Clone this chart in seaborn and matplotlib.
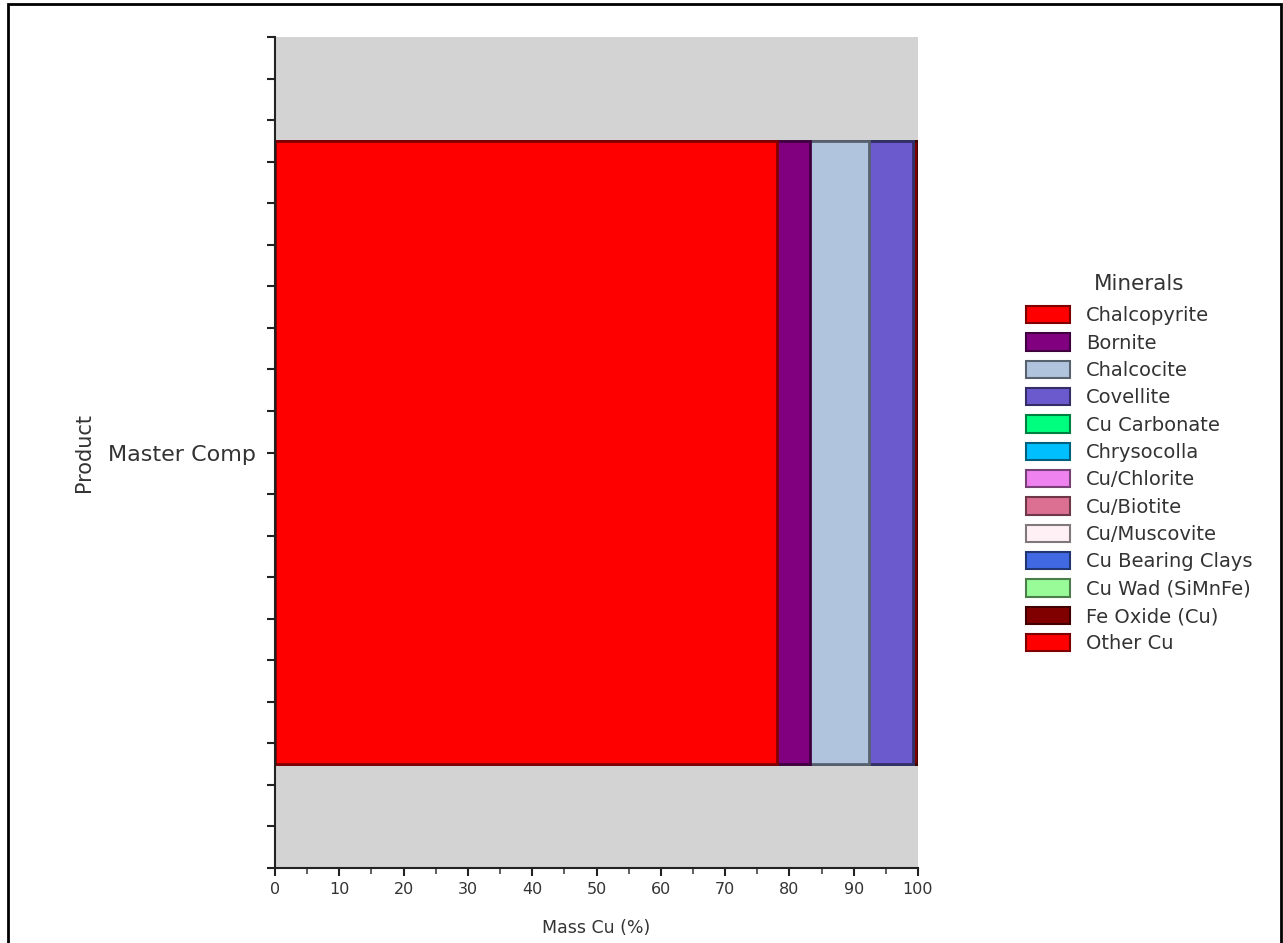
import numpy as np
import pandas as pd
import matplotlib
matplotlib.use("Agg")
import matplotlib.pyplot as plt
import seaborn as sns
from matplotlib.patches import Patch, Rectangle
from matplotlib.colors import to_rgb
from matplotlib.ticker import MultipleLocator

products = ["Master Comp"]
minerals = ["Chalcopyrite", "Bornite", "Chalcocite", "Covellite", "Cu Carbonate",
            "Chrysocolla", "Cu/Chlorite", "Cu/Biotite", "Cu/Muscovite",
            "Cu Bearing Clays", "Cu Wad (SiMnFe)", "Fe Oxide (Cu)", "Other Cu"]
values = [78.0, 5.2, 9.2, 6.9, 0.0, 0.0, 0.0, 0.0, 0.0, 0.0, 0.0, 0.7, 0.0]
colors = ["#FF0000", "#800080", "#B0C4DE", "#6A5ACD", "#00FF7F", "#00BFFF",
          "#EE82EE", "#DB7093", "#FFF0F5", "#4169E1", "#98FB98", "#800000", "#FF0000"]
xticks = [0, 10, 20, 30, 40, 50, 60, 70, 80, 90, 100]


def darker(c, f=0.5):
    r, g, b = to_rgb(c)
    return (r * f, g * f, b * f)


sns.set_style("white")
plt.rcParams['font.family'] = ['DejaVu Sans']

fig = plt.figure(figsize=(12.83, 9.43), dpi=100)
ax = fig.add_axes([275 / 1283, 75 / 943, 643 / 1283, 831 / 943])
ax.set_facecolor("#D3D3D3")

cum = np.cumsum(values)
df = pd.DataFrame({"Product": products * len(minerals), "Mineral": minerals,
                   "Cum": cum})
for i in range(len(minerals) - 1, -1, -1):
    sub = df.iloc[[i]]
    sns.barplot(data=sub, x="Cum", y="Product", orient="h", ax=ax,
                color=colors[i], width=0.75, edgecolor=darker(colors[i]),
                linewidth=2.0, saturation=1)

ax.set_xlim(0, 100)
ax.set_ylim(0.5, -0.5)
ax.set_xticks(xticks)
ax.xaxis.set_minor_locator(MultipleLocator(5))
ax.set_yticks([0])
ax.set_yticklabels(products)
ax.yaxis.set_minor_locator(MultipleLocator(0.05))

for s in ["top", "right"]:
    ax.spines[s].set_visible(False)
for s in ["left", "bottom"]:
    ax.spines[s].set_color("#222222")
    ax.spines[s].set_linewidth(1.5)

ax.tick_params(axis="x", which="both", bottom=True)
ax.tick_params(axis="y", which="both", left=True)
ax.tick_params(axis="x", which="major", direction="out", length=6, width=1.5,
               colors="#222222", labelsize=11.5, labelcolor="#333333", pad=4)
ax.tick_params(axis="x", which="minor", direction="out", length=4, width=1.2,
               colors="#444444")
ax.tick_params(axis="y", which="both", direction="out", length=6, width=1.5,
               colors="#222222")
ax.tick_params(axis="y", which="major", labelsize=16, labelcolor="#333333", pad=8)

ax.set_xlabel("Mass Cu (%)", fontsize=12.5, color="#333333", labelpad=16)
ax.set_ylabel("Product", fontsize=15, color="#333333", labelpad=10)

handles = [Patch(facecolor=c, edgecolor=darker(c), linewidth=1.5) for c in colors]
leg = fig.legend(handles, minerals, loc="upper left",
                 bbox_to_anchor=(1008 / 1283, 1 - 256 / 943), frameon=False,
                 title="Minerals", fontsize=14, title_fontsize=15.5,
                 handlelength=2.3, handleheight=1.0, labelspacing=0.41,
                 handletextpad=0.8)
for t in leg.get_texts():
    t.set_color("#333333")
leg.get_title().set_color("#333333")
leg._legend_box.sep = 9

fig.patches.append(Rectangle((8 / 1283, -0.01), 1273 / 1283, 1 - 4 / 943 + 0.01,
                             transform=fig.transFigure, fill=False,
                             edgecolor="black", linewidth=2))

fig.savefig("out.png", dpi=100)
